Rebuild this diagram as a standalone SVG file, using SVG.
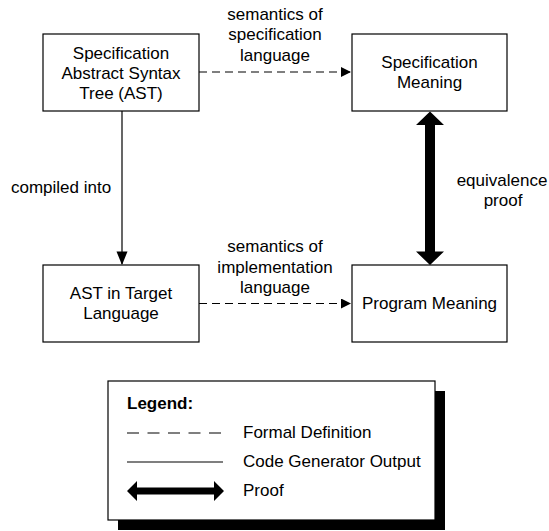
<svg xmlns="http://www.w3.org/2000/svg" width="549" height="531" viewBox="0 0 549 531">
<defs>
<style>
text{font-family:"Liberation Sans",Arial,sans-serif;font-size:17px;fill:#000}
.c{text-anchor:middle}
.box{fill:#fff;stroke:#000;stroke-width:1.2}
.dash{stroke:#000;stroke-width:1.2;fill:none;stroke-dasharray:8 5}
.solid{stroke:#000;stroke-width:1.2;fill:none}
.b{font-weight:bold}
</style>
<marker id="ah" markerWidth="10" markerHeight="10" viewBox="0 0 10 10" refX="10" refY="5" orient="auto" markerUnits="userSpaceOnUse">
<path d="M0,0 L10,5 L0,10 Z" fill="#000"/>
</marker>
</defs>
<rect width="549" height="531" fill="#fff"/>
<g id="connectors">
<line class="dash" x1="199" y1="72" x2="351" y2="72" marker-end="url(#ah)"/>
<line class="dash" x1="199" y1="303.5" x2="351" y2="303.5" marker-end="url(#ah)"/>
<line class="solid" x1="122" y1="111" x2="122" y2="264"/>
<path d="M116.5,251.5 L127.5,251.5 L122,265 Z" fill="#000"/>
<path d="M430,111.5 L444,125 L435,125 L435,251.5 L444,251.5 L430,265 L416,251.5 L425,251.5 L425,125 L416,125 Z" fill="#000"/>
<g id="labels">
<text class="c" x="275" y="19.5">semantics of</text>
<text class="c" x="275" y="40">specification</text>
<text class="c" x="275" y="60.5">language</text>
<text class="c" x="275" y="252">semantics of</text>
<text class="c" x="275" y="272.5">implementation</text>
<text class="c" x="275" y="293">language</text>
<text x="11" y="193">compiled into</text>
<text class="c" x="502" y="186">equivalence</text>
<text class="c" x="503" y="206">proof</text>
</g>
</g>
<g id="spec-ast">
<rect class="box" x="43" y="34" width="156" height="77"/>
<text class="c" x="121" y="59">Specification</text>
<text class="c" x="121" y="79">Abstract Syntax</text>
<text class="c" x="121" y="99">Tree (AST)</text>
</g>
<g id="spec-meaning">
<rect class="box" x="352" y="34" width="155" height="77"/>
<text class="c" x="429.5" y="68">Specification</text>
<text class="c" x="429.5" y="88">Meaning</text>
</g>
<g id="ast-target">
<rect class="box" x="43" y="265" width="156" height="77"/>
<text class="c" x="121" y="299">AST in Target</text>
<text class="c" x="121" y="319">Language</text>
</g>
<g id="program-meaning">
<rect class="box" x="352" y="265" width="155" height="77"/>
<text class="c" x="429.5" y="309">Program Meaning</text>
</g>
<g id="legend">
<rect x="118" y="391" width="327" height="139" fill="#000"/>
<rect class="box" x="108" y="381" width="327" height="139"/>
<text class="b" x="127" y="409">Legend:</text>
<line class="dash" x1="127" y1="433" x2="221" y2="433" style="stroke-dasharray:12 8.5"/>
<text x="243" y="438">Formal Definition</text>
<line class="solid" x1="127" y1="462" x2="223" y2="462"/>
<text x="243" y="467">Code Generator Output</text>
<path d="M127,491 L137,481 L137,487.5 L214,487.5 L214,481 L224,491 L214,501 L214,494.5 L137,494.5 L137,501 Z" fill="#000"/>
<text x="243" y="496">Proof</text>
</g>
</svg>
